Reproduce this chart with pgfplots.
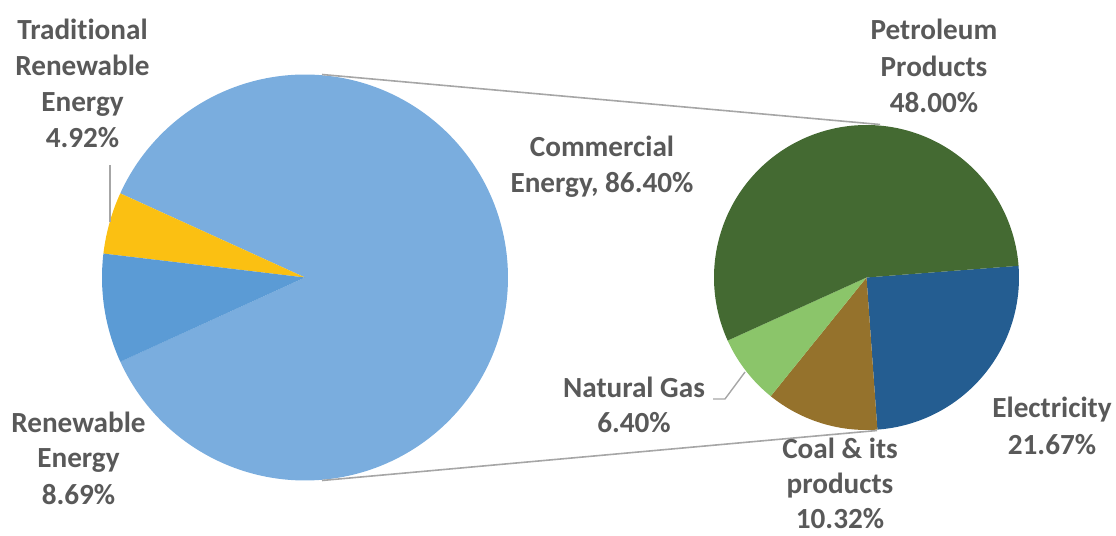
\documentclass[border=0pt]{standalone}
\usepackage{pgfplots}
\pgfplotsset{compat=1.18}
\usepackage{fontspec}
\setmainfont{Carlito}[Ligatures=NoCommon]
\definecolor{comm}{HTML}{7AADDE}
\definecolor{renew}{HTML}{5B9BD5}
\definecolor{trad}{HTML}{FBC012}
\definecolor{petro}{HTML}{446A32}
\definecolor{elec}{HTML}{245D91}
\definecolor{coal}{HTML}{95722C}
\definecolor{gas}{HTML}{8BC56A}
\definecolor{lbl}{HTML}{595959}
\definecolor{conn}{HTML}{A6A6A6}
% data (percent)
\def\vCom{86.40}\def\vRen{8.69}\def\vTrad{4.92}
\def\vPet{48.00}\def\vEle{21.67}\def\vCoal{10.32}\def\vGas{6.40}
\begin{document}
\begin{tikzpicture}
\pgfmathsetmacro{\aA}{-\vCom*1.8}
\pgfmathsetmacro{\aB}{\vCom*1.8}
\pgfmathsetmacro{\aC}{\aB+\vTrad*3.6}
\pgfmathsetmacro{\aD}{\aC+\vRen*3.6}
\pgfmathsetmacro{\tot}{\vPet+\vEle+\vCoal+\vGas}
\pgfmathsetmacro{\bA}{4.4}
\pgfmathsetmacro{\bB}{\bA-\vEle/\tot*360}
\pgfmathsetmacro{\bC}{\bB-\vCoal/\tot*360}
\pgfmathsetmacro{\bD}{\bC-\vGas/\tot*360}
\pgfmathsetmacro{\bE}{\bD-\vPet/\tot*360}
\begin{axis}[scale only axis, width=558pt, height=268pt,
  xmin=0, xmax=1116, ymin=0, ymax=536, hide axis, clip=false,
  every axis plot/.append style={line join=round}]
\addplot[draw=none] coordinates {(0,0) (1116,536)};
% left pie, centre (305,258.5), r=203
\addplot[fill=comm, draw=none, domain=\aA:\aB, samples=200, variable=\t]
  ({305+203*cos(\t)}, {258.5+203*sin(\t)}) -- (axis cs:305,258.5) -- cycle;
\addplot[fill=trad, draw=none, domain=\aB:\aC, samples=30, variable=\t]
  ({305+203*cos(\t)}, {258.5+203*sin(\t)}) -- (axis cs:305,258.5) -- cycle;
\addplot[fill=renew, draw=none, domain=\aC:\aD, samples=40, variable=\t]
  ({305+203*cos(\t)}, {258.5+203*sin(\t)}) -- (axis cs:305,258.5) -- cycle;
% right pie, centre (866.5,258.5), r=152.5
\addplot[fill=elec, draw=none, domain=\bB:\bA, samples=80, variable=\t]
  ({866.5+152.5*cos(\t)}, {258.5+152.5*sin(\t)}) -- (axis cs:866.5,258.5) -- cycle;
\addplot[fill=coal, draw=none, domain=\bC:\bB, samples=40, variable=\t]
  ({866.5+152.5*cos(\t)}, {258.5+152.5*sin(\t)}) -- (axis cs:866.5,258.5) -- cycle;
\addplot[fill=gas, draw=none, domain=\bD:\bC, samples=30, variable=\t]
  ({866.5+152.5*cos(\t)}, {258.5+152.5*sin(\t)}) -- (axis cs:866.5,258.5) -- cycle;
\addplot[fill=petro, draw=none, domain=\bE:\bD, samples=160, variable=\t]
  ({866.5+152.5*cos(\t)}, {258.5+152.5*sin(\t)}) -- (axis cs:866.5,258.5) -- cycle;
% connector lines
\addplot[conn, line width=0.8pt] coordinates {(322,461.5) (880,411.5)};
\addplot[conn, line width=0.8pt] coordinates {(322,55.5) (877,105.5)};
% leader lines
\addplot[conn, line width=0.7pt] coordinates {(110,371) (110,314)};
\addplot[conn, line width=0.7pt] coordinates {(713,137) (725,137) (745,164)};
% labels
\begin{scope}[every node/.style={anchor=base, text=lbl, font=\bfseries\fontsize{14.6}{17.5}\selectfont, inner sep=0pt}]
\node at (axis cs:82.5,496) {Traditional};
\node at (axis cs:82.5,460) {Renewable};
\node at (axis cs:82.5,424) {Energy};
\node at (axis cs:82.5,388) {4.92\%};
\node at (axis cs:602,379) {Commercial};
\node at (axis cs:602,343) {Energy, 86.40\%};
\node at (axis cs:934,496) {Petroleum};
\node at (axis cs:934,459) {Products};
\node at (axis cs:934,423) {48.00\%};
\node at (axis cs:78.5,103) {Renewable};
\node at (axis cs:78.5,68) {Energy};
\node at (axis cs:78.5,31) {8.69\%};
\node at (axis cs:634,138) {Natural Gas};
\node at (axis cs:634,103) {6.40\%};
\node at (axis cs:840,77) {Coal \& its};
\node at (axis cs:840,42) {products};
\node at (axis cs:840,7.5) {10.32\%};
\node at (axis cs:1052,118) {Electricity};
\node at (axis cs:1052,81) {21.67\%};
\end{scope}
\end{axis}
\end{tikzpicture}
\end{document}
